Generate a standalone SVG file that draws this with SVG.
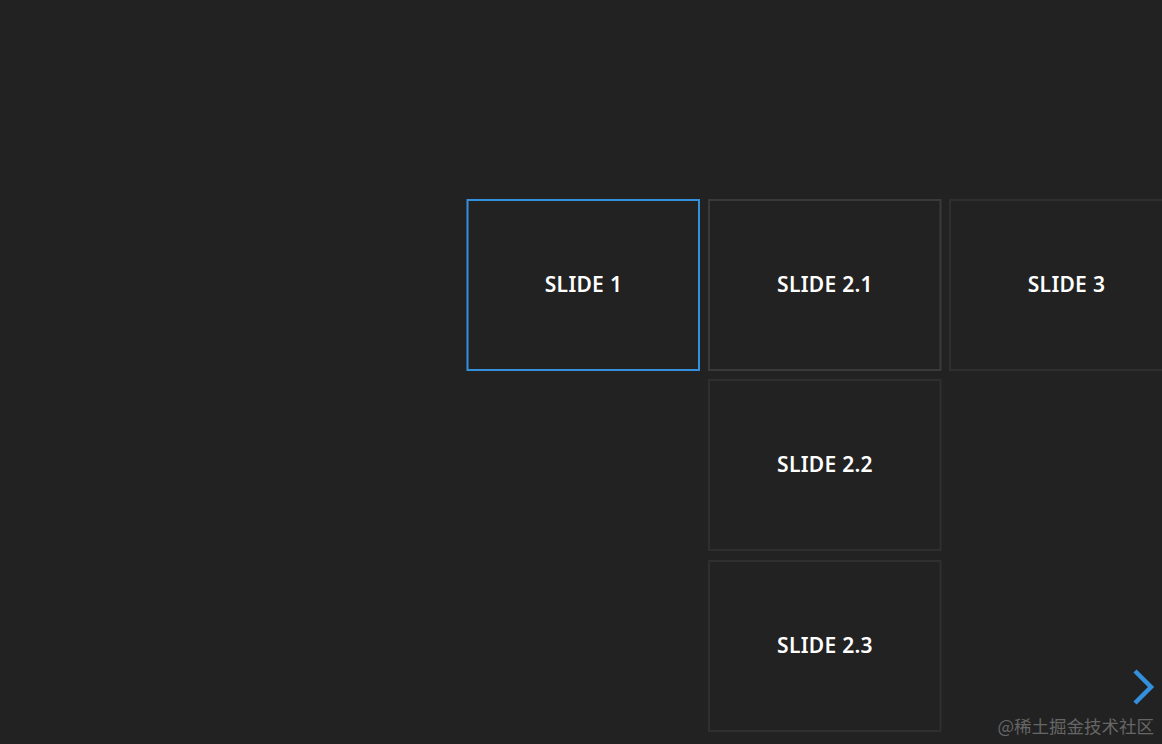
<svg xmlns="http://www.w3.org/2000/svg" width="1162" height="744" viewBox="0 0 1162 744">
<style>
.slide{fill:#222222;stroke-width:2}
.lbl{font-family:"Noto Sans","Open Sans",sans-serif;font-weight:600;font-size:21px;fill:#ffffff;text-anchor:middle;letter-spacing:0.3px}
</style>
<rect width="1162" height="744" fill="#222222"/>
<g id="slide-1"><rect class="slide" x="467.5" y="200" width="231.5" height="170" stroke="#3490dc"/><text class="lbl" x="583.5" y="292">SLIDE 1</text></g>
<g id="slide-2-1"><rect class="slide" x="709" y="200" width="231.5" height="170" stroke="#3a3a3a"/><text class="lbl" x="825" y="292">SLIDE 2.1</text></g>
<g id="slide-3"><rect class="slide" x="950" y="200" width="231.5" height="170" stroke="#2f2f2f"/><text class="lbl" x="1066.5" y="292">SLIDE 3</text></g>
<g id="slide-2-2"><rect class="slide" x="709" y="380" width="231.5" height="170" stroke="#2f2f2f"/><text class="lbl" x="825" y="472">SLIDE 2.2</text></g>
<g id="slide-2-3"><rect class="slide" x="709" y="561" width="231.5" height="170" stroke="#2f2f2f"/><text class="lbl" x="825" y="653">SLIDE 2.3</text></g>
<g id="connectors"></g>
<g id="nav-next"><polyline points="1135,671 1151,687 1135,703" fill="none" stroke="#3490dc" stroke-width="4.5"/></g>
<text x="1154" y="733" font-family="'Noto Sans CJK SC','Noto Sans',sans-serif" font-size="17.5" fill="#666666" text-anchor="end">@稀土掘金技术社区</text>
</svg>
